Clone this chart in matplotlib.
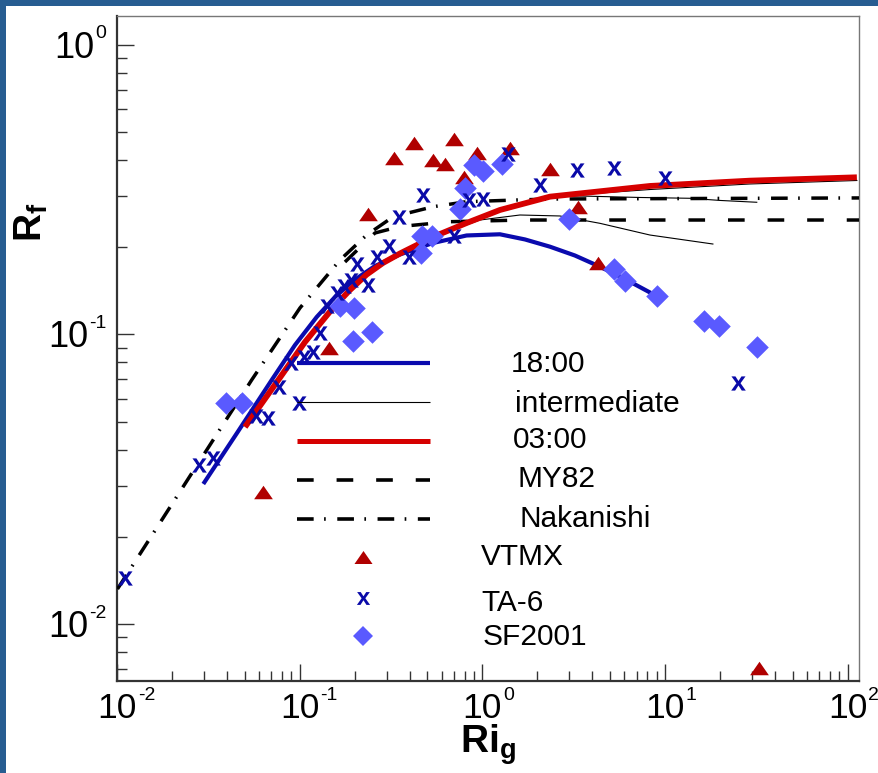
import numpy as np
import matplotlib
matplotlib.use('Agg')
import matplotlib.pyplot as plt
from matplotlib.patches import Rectangle
from matplotlib.lines import Line2D
from matplotlib.transforms import blended_transform_factory, offset_copy

plt.rcParams['font.family'] = ['Liberation Sans', 'DejaVu Sans']
plt.rcParams['mathtext.fontset'] = 'custom'
plt.rcParams['mathtext.rm'] = 'Liberation Sans'
plt.rcParams['mathtext.it'] = 'Liberation Sans:italic'
plt.rcParams['mathtext.bf'] = 'Liberation Sans:bold'
plt.rcParams['lines.scale_dashes'] = False

# ---------------- data ----------------
ri_1800 = [0.02968, 0.04538, 0.0703, 0.0943, 0.1239, 0.1561, 0.1957, 0.2584, 0.354, 0.5366,
           0.820, 1.248, 1.711, 2.345, 3.213, 4.40, 6.033, 8.37]
rf_1800 = [0.03046, 0.04566, 0.0696, 0.0919, 0.1148, 0.1346, 0.1529, 0.1722, 0.1887, 0.2068,
           0.2195, 0.2216, 0.2127, 0.2008, 0.1872, 0.1713, 0.1553, 0.139]

ri_0300 = [0.0502, 0.0764, 0.1069, 0.1522, 0.1885, 0.2327, 0.2857, 0.354, 0.5366, 0.820,
           1.248, 2.345, 8.27, 29.1, 112.3]
rf_0300 = [0.0479, 0.0696, 0.0941, 0.1234, 0.1423, 0.1609, 0.1764, 0.1902, 0.2169, 0.2424,
           0.2688, 0.2988, 0.3253, 0.3393, 0.3485]

ri_inter_a = [0.354, 0.5366, 0.9703, 1.606, 2.659, 4.40, 8.27, 18.29]
rf_inter_a = [0.1902, 0.2169, 0.2482, 0.2583, 0.2563, 0.2418, 0.2203, 0.2051]
ri_inter_b = [0.354, 0.5366, 0.820, 1.248, 2.345, 3.42, 7.29, 13.69, 19.98, 31.8]
rf_inter_b = [0.1902, 0.2169, 0.2424, 0.2688, 0.2988, 0.3004, 0.2969, 0.2950, 0.290, 0.2858]
ri_inter_c = [0.354, 0.5366, 0.820, 1.248, 2.345, 8.27, 29.1, 112.3]
rf_inter_c = [0.1902, 0.2169, 0.2424, 0.2688, 0.2988, 0.3163, 0.3305, 0.3398]

ri_my82 = [0.177, 0.2584, 0.354, 0.6648, 1.668, 116.0]
rf_my82 = [0.1778, 0.2239, 0.2357, 0.2449, 0.2482, 0.2482]

ri_nak = [0.01006, 0.0546, 0.1004, 0.1662, 0.2327, 0.3253, 0.5385, 0.820, 1.541, 2.345, 116.0]
rf_nak = [0.01322, 0.0696, 0.1234, 0.1806, 0.2203, 0.2548, 0.2759, 0.2871, 0.2910, 0.2933, 0.2958]

ri_vtmx = [0.0632, 0.1452, 0.2374, 0.3269, 0.4233, 0.699, 0.5353, 0.6266, 0.9307, 0.790,
           1.416, 2.359, 3.324, 4.309, 32.78]
rf_vtmx = [0.02864, 0.0895, 0.2603, 0.4071, 0.4567, 0.4737, 0.4009, 0.388, 0.4218, 0.3485,
           0.4389, 0.3728, 0.2759, 0.176, 0.00704]

ri_ta6 = [0.01106, 0.02804, 0.03366, 0.05787, 0.06732, 0.07703, 0.0995, 0.0896, 0.1062, 0.1183,
          0.1297, 0.1405, 0.1594, 0.1752, 0.1901, 0.2051, 0.2374, 0.2640, 0.3090, 0.3496,
          0.398, 0.4712, 0.6966, 0.8414, 1.008, 1.381, 2.074, 3.282, 5.252, 9.986, 25.16]
rf_ta6 = [0.01439, 0.03541, 0.03736, 0.05217, 0.05134, 0.06583, 0.05784, 0.07948, 0.08375, 0.08682,
          0.1015, 0.1258, 0.1390, 0.1469, 0.1541, 0.1747, 0.1481, 0.1850, 0.2011, 0.2542,
          0.1854, 0.3016, 0.2186, 0.2904, 0.2934, 0.4205, 0.3280, 0.3694, 0.3745, 0.3458, 0.0678]

ri_sf = [0.03936, 0.04815, 0.1655, 0.1995, 0.1965, 0.2477, 0.4683, 0.5332, 0.4624, 0.752,
         0.806, 0.8972, 1.005, 1.276, 2.99, 5.258, 6.033, 9.087, 16.33, 19.65, 31.97]
rf_sf = [0.05811, 0.05811, 0.1253, 0.1231, 0.09489, 0.1022, 0.2186, 0.2194, 0.1914, 0.2705,
         0.3209, 0.3843, 0.367, 0.3871, 0.2496, 0.1678, 0.1529, 0.1357, 0.1115, 0.1072, 0.0907]

legend_labels = ['18:00', 'intermediate', '03:00', 'MY82', 'Nakanishi', 'VTMX', 'TA-6', 'SF2001']
x_exponents = [-2, -1, 0, 1, 2]
y_exponents = [-2, -1, 0]

# ---------------- styles ----------------
C_BLUE = '#0a0aae'
C_RED = '#d60000'
C_TRI = '#b00000'
C_X = '#0a0aa8'
C_DIA = '#5a5aff'
DASH = (0, (12, 16.5))
DASHDOT = (0, (12, 7.5, 1.2, 8.3))
TRI = [(-1, -0.72), (1, -0.72), (0, 0.72), (-1, -0.72)]
XMARK = r'$\mathbf{x}$'

W, H = 879, 773
fig = plt.figure(figsize=(W / 100, H / 100), dpi=100)
fig.patch.set_facecolor('white')
fig.patches.append(Rectangle((0, 0), 6 / W, 1, transform=fig.transFigure,
                             facecolor='#275d91', edgecolor='none', zorder=0))
fig.patches.append(Rectangle((0, 1 - 6 / H), 1, 6 / H, transform=fig.transFigure,
                             facecolor='#275d91', edgecolor='none', zorder=0))

L, R, T, B = 117, 859.3, 15.7, 681
ax = fig.add_axes([L / W, 1 - B / H, (R - L) / W, (B - T) / H])
ax.set_xscale('log')
ax.set_yscale('log')
ax.set_xlim(0.01, 115.8)
ax.set_ylim(0.006363, 1.259)

# curves
for xi, yi in [(ri_inter_a, rf_inter_a), (ri_inter_b, rf_inter_b), (ri_inter_c, rf_inter_c)]:
    ax.plot(xi, yi, color='black', lw=0.8, zorder=2)
ax.plot(ri_my82, rf_my82, color='black', lw=2.5, linestyle=DASH, zorder=3)
ax.plot(ri_nak, rf_nak, color='black', lw=2.5, linestyle=DASHDOT, zorder=3)
ax.plot(ri_1800, rf_1800, color=C_BLUE, lw=3.0, zorder=4, solid_capstyle='butt',
        solid_joinstyle='round')
ax.plot(ri_0300, rf_0300, color=C_RED, lw=4.2, zorder=5, solid_capstyle='butt',
        solid_joinstyle='round')

# points
ax.scatter(ri_vtmx, rf_vtmx, marker=TRI, s=13.5 ** 2, color=C_TRI, linewidths=0, zorder=6)
ax.scatter(ri_sf, rf_sf, marker='D', s=11.5 ** 2, color=C_DIA, linewidths=0, zorder=7)
ax.scatter(ri_ta6, rf_ta6, marker=XMARK, s=10.5 ** 2, color=C_X, linewidths=0, zorder=8)

# axes style
ax.set_xticks([10.0 ** e for e in x_exponents])
ax.set_yticks([10.0 ** e for e in y_exponents])
ax.tick_params(which='both', direction='in', top=False, right=False, colors='#333333',
               labelbottom=False, labelleft=False)
ax.tick_params(which='major', length=12.5, width=1.0)
ax.tick_params(which='minor', length=7.5, width=1.0)
for s in ['left', 'bottom']:
    ax.spines[s].set_linewidth(1.6)
    ax.spines[s].set_color('#333333')
for s in ['top', 'right']:
    ax.spines[s].set_linewidth(1.0)
    ax.spines[s].set_color('#777777')

# tick labels as "10" + small superscript
BIG, SUP = 25.5, 14
xtr = offset_copy(blended_transform_factory(ax.transData, ax.transAxes), fig=fig,
                  x=0, y=-10.5, units='dots')
for e in x_exponents:
    t = ax.text(10.0 ** e, 0, '10', transform=xtr, ha='center', va='top', fontsize=BIG,
                clip_on=False)
    ax.annotate(str(e), xy=(1, 1), xycoords=t, xytext=(1, 5), textcoords='offset pixels',
                ha='left', va='top', fontsize=SUP, annotation_clip=False)

ytr = offset_copy(blended_transform_factory(ax.transAxes, ax.transData), fig=fig,
                  x=-10.5, y=19.5, units='dots')
for e in y_exponents:
    s = ax.text(0, 10.0 ** e, str(e), transform=ytr, ha='right', va='top', fontsize=SUP,
                clip_on=False)
    ax.annotate('10', xy=(0, 1), xycoords=s, xytext=(-1, -5.5), textcoords='offset pixels',
                ha='right', va='top', fontsize=26, annotation_clip=False)

# axis labels
fig.text(488 / W, 1 - 753 / H, r'$\mathbf{Ri_g}$', fontsize=28, ha='center', va='baseline')
fig.text(31 / W, 1 - 222 / H, r'$\mathbf{R_f}$', fontsize=28, ha='center', va='center', rotation=90)

# legend (hand placed)
def fx(px):
    return px / W

def fy(py):
    return 1 - py / H

leg_lines = [
    dict(y=363.3, color=C_BLUE, lw=3.0, ls='-'),
    dict(y=402.0, color='black', lw=0.8, ls='-'),
    dict(y=441.0, color=C_RED, lw=3.6, ls='-'),
    dict(y=480.3, color='black', lw=2.6, ls=DASH),
    dict(y=519.3, color='black', lw=2.6, ls=DASHDOT),
]
for d in leg_lines:
    fig.add_artist(Line2D([fx(297), fx(430)], [fy(d['y']), fy(d['y'])], color=d['color'],
                          lw=d['lw'], linestyle=d['ls'], solid_capstyle='butt',
                          transform=fig.transFigure))
fig.add_artist(Line2D([fx(363.3)], [fy(556.7)], marker=TRI, markersize=13, color=C_TRI,
                      markeredgewidth=0, linestyle='none', transform=fig.transFigure))
fig.add_artist(Line2D([fx(363.3)], [fy(598.3)], marker=XMARK, markersize=9.5, color=C_X,
                      markeredgewidth=0, linestyle='none', transform=fig.transFigure))
fig.add_artist(Line2D([fx(363.3)], [fy(636)], marker='D', markersize=10.5, color=C_DIA,
                      markeredgewidth=0, linestyle='none', transform=fig.transFigure))

text_pos = [(510.7, 372.3), (515, 411.7), (512.7, 448.3), (518, 486.7), (519, 526.7),
            (481, 565), (481, 611), (483, 645)]
for lab, (px, py) in zip(legend_labels, text_pos):
    fig.text(fx(px), fy(py), lab, fontsize=21.5, ha='left', va='baseline')

fig.savefig('out.png', dpi=100, facecolor='white')
